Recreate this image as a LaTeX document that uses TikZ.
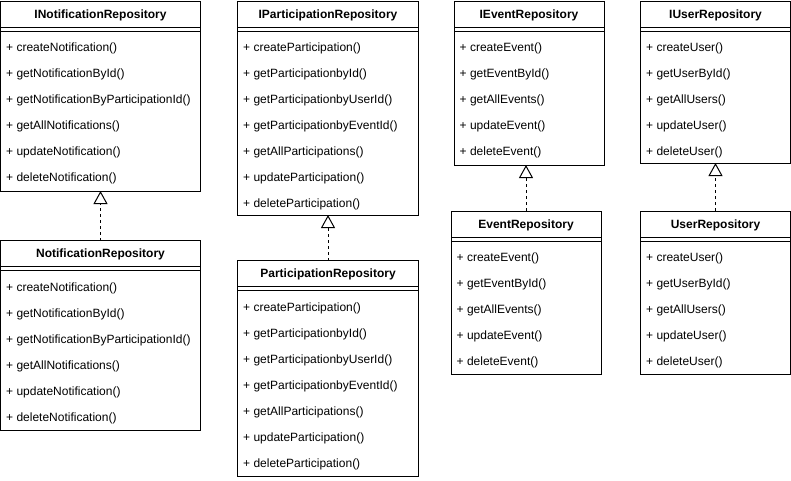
\documentclass[tikz,border=0pt]{standalone}
\usepackage{fontspec}
\setmainfont{Liberation Sans}
\usetikzlibrary{arrows.meta,positioning,calc}

\begin{document}
\begin{tikzpicture}[x=1pt,y=-1pt,>=Latex,font=\fontsize{12}{14}\selectfont]

\tikzset{
cls/.style={
    draw,
    line width=1pt,
    anchor=north west,
    inner sep=0pt,
    outer sep=0pt,
    fill=white
},
clsname/.style={
    font=\fontsize{12}{14}\selectfont\bfseries,
    inner sep=0pt
},
member/.style={anchor=west,inner sep=0pt},
sep/.style={line width=1pt},
impl/.style={
    line width=1pt,
    dash pattern=on 3pt off 3pt,
    -{Triangle[open,length=13pt,width=14pt]}
}
}

\useasboundingbox (0,0) rectangle (791,480);

% interfaces
\node[cls,minimum width=200pt,minimum height=190pt] (inotif) at (0.5,1) {};
\node[cls,minimum width=181pt,minimum height=214pt] (ipart) at (237.5,1) {};
\node[cls,minimum width=150pt,minimum height=164pt] (ievent) at (454,1) {};
\node[cls,minimum width=150pt,minimum height=162pt] (iuser) at (640.5,1) {};

% implementations
\node[cls,minimum width=200pt,minimum height=190pt] (notif) at (0.5,240.5) {};
\node[cls,minimum width=181pt,minimum height=216pt] (part) at (237.5,260.5) {};
\node[cls,minimum width=150pt,minimum height=163pt] (event) at (451,211) {};
\node[cls,minimum width=150pt,minimum height=163pt] (user) at (640.5,211) {};

% names
\node[clsname] (inotif-t) at ($(inotif.north)+(0,14)$) {INotificationRepository};
\node[clsname] (ipart-t) at ($(ipart.north)+(0,14)$) {IParticipationRepository};
\node[clsname] (ievent-t) at ($(ievent.north)+(0,14)$) {IEventRepository};
\node[clsname] (iuser-t) at ($(iuser.north)+(0,14)$) {IUserRepository};
\node[clsname] (notif-t) at ($(notif.north)+(0,14)$) {NotificationRepository};
\node[clsname] (part-t) at ($(part.north)+(0,14)$) {ParticipationRepository};
\node[clsname] (event-t) at ($(event.north)+(0,14)$) {EventRepository};
\node[clsname] (user-t) at ($(user.north)+(0,14)$) {UserRepository};

% double line under each name
\foreach \c in {inotif,ipart,ievent,iuser,notif,part,event,user}{
    \draw[sep] ($(\c.north west)+(0,26)$) -- ($(\c.north east)+(0,26)$);
    \draw[sep] ($(\c.north west)+(0,30)$) -- ($(\c.north east)+(0,30)$);
}

% operations
\foreach \c in {inotif,notif}
    \foreach \m [count=\i] in {createNotification,getNotificationById,getNotificationByParticipationId,getAllNotifications,updateNotification,deleteNotification}
        \node[member] (\c-m\i) at ($(\c.north west)+(5.5,{21.5+26*\i})$) {+ \m()};
\foreach \c in {ipart,part}
    \foreach \m [count=\i] in {createParticipation,getParticipationbyId,getParticipationbyUserId,getParticipationbyEventId,getAllParticipations,updateParticipation,deleteParticipation}
        \node[member] (\c-m\i) at ($(\c.north west)+(5.5,{21.5+26*\i})$) {+ \m()};
\foreach \c in {ievent,event}
    \foreach \m [count=\i] in {createEvent,getEventById,getAllEvents,updateEvent,deleteEvent}
        \node[member] (\c-m\i) at ($(\c.north west)+(5.5,{21.5+26*\i})$) {+ \m()};
\foreach \c in {iuser,user}
    \foreach \m [count=\i] in {createUser,getUserById,getAllUsers,updateUser,deleteUser}
        \node[member] (\c-m\i) at ($(\c.north west)+(5.5,{21.5+26*\i})$) {+ \m()};

% realizations
\draw[impl] (notif.north) -- (inotif.south);
\draw[impl] (part.north) -- (ipart.south);
\draw[impl] (event.north) -- (event.north |- ievent.south);
\draw[impl] (user.north) -- (user.north |- iuser.south);

\end{tikzpicture}
\end{document}
